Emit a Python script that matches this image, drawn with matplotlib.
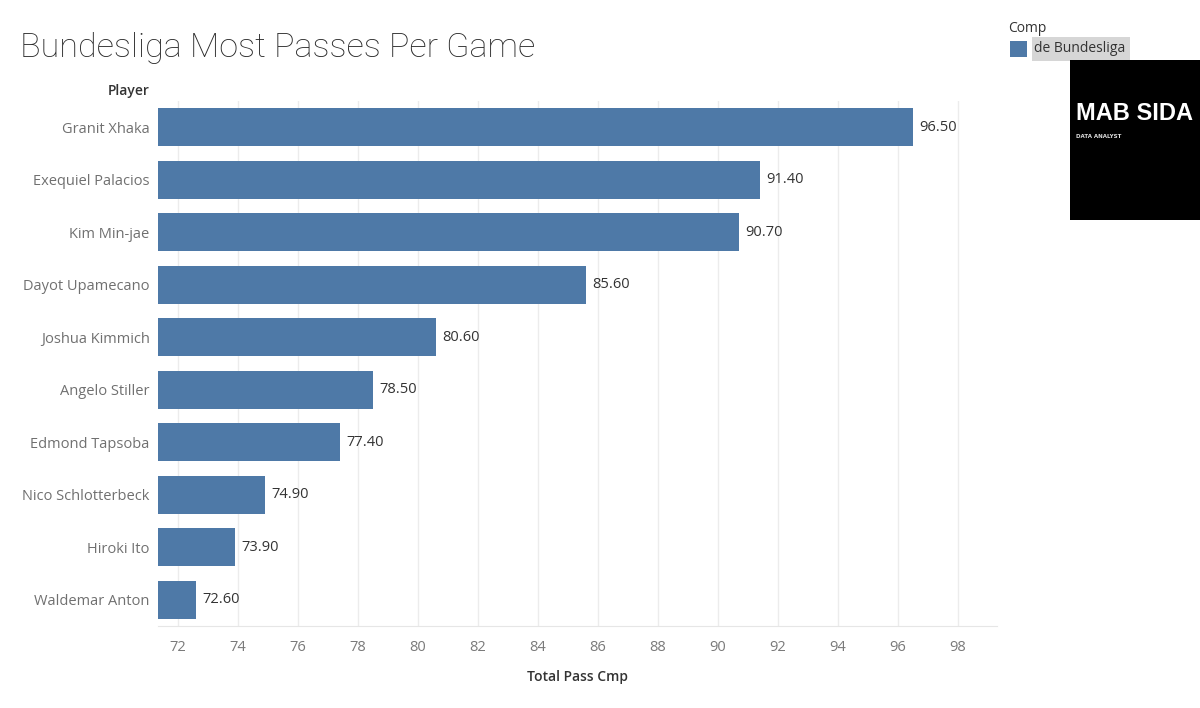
import matplotlib
matplotlib.use("Agg")
import matplotlib.pyplot as plt
from matplotlib.patches import Rectangle

players = ["Granit Xhaka", "Exequiel Palacios", "Kim Min-jae", "Dayot Upamecano",
           "Joshua Kimmich", "Angelo Stiller", "Edmond Tapsoba", "Nico Schlotterbeck",
           "Hiroki Ito", "Waldemar Anton"]
passes = [96.5, 91.4, 90.7, 85.6, 80.6, 78.5, 77.4, 74.9, 73.9, 72.6]
xticks = [72, 74, 76, 78, 80, 82, 84, 86, 88, 90, 92, 94, 96, 98]

bar_color = "#4e79a7"
W, H = 1200, 708
fig = plt.figure(figsize=(12, 7.08), dpi=100)
ax = fig.add_axes([158 / W, 1 - 626 / H, (997 - 158) / W, (626 - 101) / H])

ypos = list(range(len(players)))
ax.barh(ypos, passes, height=0.72, color=bar_color, left=0)
ax.set_xlim(71.333, 99.3)
ax.set_ylim(len(players) - 0.5, -0.5)
ax.set_yticks(ypos)
ax.set_yticklabels(players, fontsize=10.5, color="#707070", family="Open Sans")
ax.set_xticks(xticks)
ax.set_xticklabels([str(t) for t in xticks], fontsize=10.5, color="#7a7a7a", family="Open Sans")
ax.tick_params(axis="y", length=0, pad=6)
ax.tick_params(axis="x", length=0, pad=10)
for s in ["top", "right", "left"]:
    ax.spines[s].set_visible(False)
ax.spines["bottom"].set_color("#e6e6e6")
ax.grid(axis="x", color="#ececec", linewidth=1)
ax.set_axisbelow(True)

for y, v in zip(ypos, passes):
    ax.text(v + 0.2, y, f"{v:.2f}", va="center", ha="left", fontsize=10.5,
            color="#333333", family="Open Sans")

ax.set_xlabel("Total Pass Cmp", fontsize=10, color="#333333", family="Open Sans",
              fontweight="semibold", labelpad=11)

fig.text(150 / W, 1 - 91 / H, "Player", ha="right", va="center", fontsize=10,
         color="#333333", family="Open Sans", fontweight="semibold")

fig.text(20 / W, 1 - 48 / H, "Bundesliga Most Passes Per Game", ha="left", va="center",
         fontsize=24.6, color="#2a2a2a", family="Roboto", fontweight="light")

# legend
fig.text(1008 / W, 1 - 29 / H, "Comp", ha="left", va="center", fontsize=10,
         color="#333333", family="Open Sans")
fig.patches.append(Rectangle((1010 / W, 1 - 57 / H), 17 / W, 16 / H, transform=fig.transFigure,
                             facecolor=bar_color, edgecolor="none"))
fig.patches.append(Rectangle((1032 / W, 1 - 61 / H), 98 / W, 24 / H, transform=fig.transFigure,
                             facecolor="#d6d6d6", edgecolor="none"))
fig.text(1034 / W, 1 - 49 / H, "de Bundesliga", ha="left", va="center", fontsize=10,
         color="#333333", family="Open Sans")

# logo
fig.patches.append(Rectangle((1070 / W, 1 - 220 / H), 130 / W, 160 / H, transform=fig.transFigure,
                             facecolor="black", edgecolor="none"))
fig.text(1076 / W, 1 - 114 / H, "MAB SIDA", ha="left", va="center", fontsize=17,
         color="white", family="Liberation Sans", fontweight="bold")
fig.text(1076 / W, 1 - 136 / H, "DATA ANALYST", ha="left", va="center", fontsize=4,
         color="#dddddd", family="DejaVu Sans", fontweight="bold")

fig.savefig("out.png", dpi=100)
